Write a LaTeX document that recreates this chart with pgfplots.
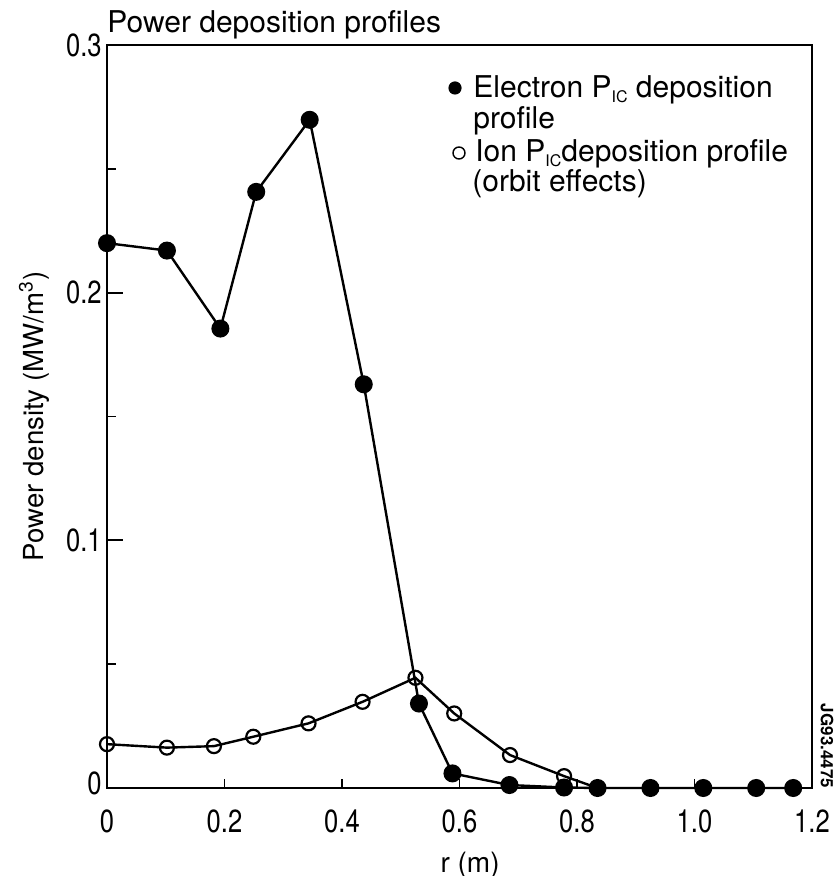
\documentclass[border=0pt]{standalone}
\usepackage{pgfplots}
\pgfplotsset{compat=1.18}
\usepackage{fontspec}
\setmainfont{TeX Gyre Heros}
\newfontfamily\condfont{TeX Gyre Heros}[FakeStretch=0.8]
\begin{document}
\begin{tikzpicture}
\pgfplotstableread{
r v
0.000 0.2200
0.102 0.2170
0.193 0.1855
0.254 0.2407
0.345 0.2698
0.437 0.1630
0.531 0.0341
0.588 0.0059
0.685 0.0012
0.778 0.0002
0.835 0.0000
0.925 0.0000
1.015 0.0000
1.105 0.0000
1.168 0.0000
}\electron
\pgfplotstableread{
r v
0.000 0.0177
0.102 0.0163
0.182 0.0169
0.249 0.0207
0.343 0.0261
0.435 0.0348
0.525 0.0445
0.591 0.0301
0.686 0.0133
0.778 0.0048
}\ion
\begin{axis}[
  at={(0,0)}, anchor=south west,
  scale only axis, width=352.5bp, height=371.5bp,
  xmin=0, xmax=1.2, ymin=0, ymax=0.3,
  axis line style={line width=1bp},
  xtick={0,0.2,0.4,0.6,0.8,1.0,1.2},
  xticklabels={0,0.2,0.4,0.6,0.8,1.0,1.2},
  minor xtick={0.2,0.4,0.6,0.8,1.0},
  major x tick style={draw=none},
  ytick={0,0.1,0.2,0.3},
  yticklabels={\raisebox{5bp}{0},0.1,0.2,0.3},
  minor ytick={0.05,0.15,0.25},
  tick align=inside,
  xtick pos=bottom, ytick pos=left,
  major tick length=8bp, minor tick length=4.5bp,
  every tick/.style={black, line width=0.9bp},
  tick label style={font=\condfont\fontsize{16bp}{17bp}\selectfont},
  /pgf/number format/assume math mode=true,
  xticklabel style={anchor=base, yshift=-22bp},
  yticklabel style={anchor=east, inner xsep=2.5bp},
  clip=false,
]
\addplot[black, line width=1.2bp, forget plot] table[x=r,y=v] {\ion} -- (axis cs:0.835,0);
\addplot[black, line width=1.2bp, mark=*, mark size=3.9bp, mark options={fill=black}] table[x=r,y=v] {\electron};
\addplot[only marks, mark=o, mark size=3.5bp, mark options={fill=white, draw=black, line width=1.1bp}] table[x=r,y=v] {\ion};

\node[anchor=base west, inner sep=0pt, font=\fontsize{15bp}{17bp}\selectfont] at ([yshift=6.5bp]rel axis cs:0,1) {Power deposition profiles};
\node[anchor=base, rotate=90, font=\fontsize{13.8bp}{15bp}\selectfont] at ([xshift=-32bp]rel axis cs:0,0.5) {Power density (MW/m\textsuperscript{3})};
\node[anchor=base, font=\fontsize{14bp}{15bp}\selectfont] at ([yshift=-42bp]rel axis cs:0.515,0) {r (m)};
\node[rotate=-90, font=\bfseries\fontsize{8.5bp}{9bp}\selectfont] at ([xshift=7.5bp, yshift=21bp]rel axis cs:1,0) {JG93.4475};

\fill[black] ([xshift=174bp, yshift=350bp]rel axis cs:0,0) circle (3.3bp);
\draw[black, line width=0.7bp, fill=white] ([xshift=176bp, yshift=317.5bp]rel axis cs:0,0) circle (3bp);
\node[anchor=base west, inner sep=0pt, font=\fontsize{15bp}{16bp}\selectfont] at ([xshift=183bp, yshift=345bp]rel axis cs:0,0) {Electron P\raisebox{-0.3ex}{\fontsize{8bp}{8bp}\selectfont IC} deposition};
\node[anchor=base west, inner sep=0pt, font=\fontsize{15bp}{16bp}\selectfont] at ([xshift=183bp, yshift=329.5bp]rel axis cs:0,0) {profile};
\node[anchor=base west, inner sep=0pt, font=\fontsize{15bp}{16bp}\selectfont] at ([xshift=184bp, yshift=313bp]rel axis cs:0,0) {Ion P\raisebox{-0.3ex}{\fontsize{8bp}{8bp}\selectfont IC}deposition profile};
\node[anchor=base west, inner sep=0pt, font=\fontsize{15bp}{16bp}\selectfont] at ([xshift=182.5bp, yshift=298bp]rel axis cs:0,0) {(orbit effects)};
\end{axis}
\pgfresetboundingbox
\path[use as bounding box] (-53.5bp,-44bp) rectangle (364.5bp,394bp);
\end{tikzpicture}
\end{document}
